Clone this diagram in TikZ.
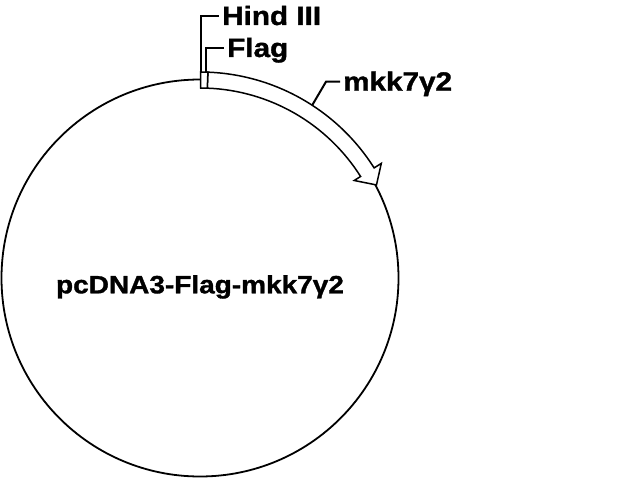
\documentclass[tikz,border=0pt]{standalone}
\usepackage{fontspec}
\setmainfont{Liberation Sans}[FakeStretch=1.12, BoldFeatures={FakeBold=1.3}]
\usetikzlibrary{positioning}

\begin{document}
\begin{tikzpicture}[
                    x=1pt, y=1pt,
                    lbl/.style={anchor=west, inner xsep=3pt, inner ysep=0pt, text height=18pt, text depth=0pt, font=\fontsize{26.5}{30}\selectfont\bfseries},
                    leader/.style={draw, line width=2pt},
                    gene/.style={draw, fill=white, line width=1.5pt, line join=miter}
                    ]

                    \useasboundingbox (-200,-202) rectangle (440,278);

                    % plasmid backbone
                    \draw[line width=1.8pt] (0,0) circle (198.5);
                    \node[lbl, anchor=base, inner xsep=0pt, font=\fontsize{25}{30}\selectfont\bfseries] (name) at (0,-15.3) {pcDNA3-Flag-mkk7γ2};

                    % insert with arrow head
                    \draw[gene] (87.8:206) arc (87.8:32.3:206) -- (32.3:214.5) -- (27.8:199.5)
                                -- (32.3:182.5) -- (32.3:190) arc (32.3:87.8:190) -- cycle;
                    \draw[gene] (89.8:206) arc (89.8:87.8:206) -- (87.8:190) arc (87.8:89.8:190) -- cycle;

                    % sites and labels
                    \coordinate (hindsite) at (89.7:206);
                    \coordinate (flagsite) at (88.3:206);
                    \coordinate (genesite) at (57:206);
                    \coordinate (genebend) at (126,196.3);

                    \node[lbl] (hind) at (19,262) {Hind III};
                    \node[lbl] (flag) at (24,230) {Flag};
                    \node[lbl] (gene) at (140,196.3) {mkk7γ2};

                    \draw[leader] (hindsite) |- (hind.west);
                    \draw[leader] (flagsite) |- (flag.west);
                    \draw[leader] (genesite) -- (genebend) -- (gene.west);
                \end{tikzpicture}
\end{document}
